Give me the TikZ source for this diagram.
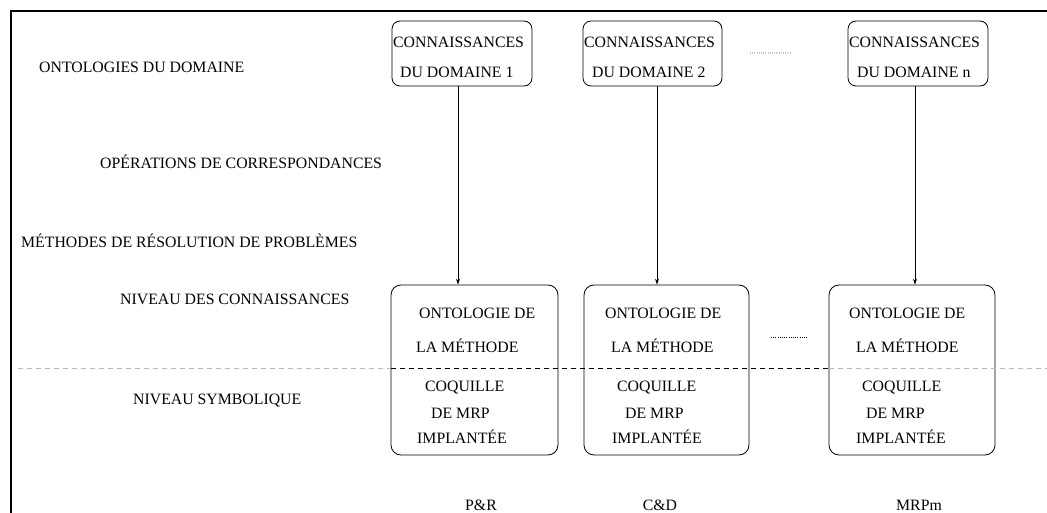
\documentclass[tikz,border=0pt]{standalone}
\usepackage{fontspec}
\setmainfont{Liberation Serif}
\usetikzlibrary{arrows.meta}
\begin{document}
\begin{tikzpicture}[x=1pt,y=-1pt,
  txt/.style={inner sep=0pt, anchor=base west, font=\fontsize{15.8}{18}\selectfont},
  ctxt/.style={inner sep=0pt, anchor=base, font=\fontsize{15.8}{18}\selectfont},
  dombox/.style={draw, rounded corners=8pt, line width=0.8pt, minimum height=65pt, inner sep=0pt},
  methbox/.style={draw, rounded corners=10pt, line width=0.8pt, minimum height=170pt, inner sep=0pt},
  link/.style={line width=0.7pt, -{Stealth[length=6pt,width=4pt]}},
  level/.style={dash pattern=on 5pt off 4pt, line width=1pt},
  gap/.style={line width=1.4pt, dash pattern=on 1pt off 1.2pt}
]
\useasboundingbox (0,0) rectangle (1047,513);

% frame
\draw[line width=1.2pt] (11,513) -- (11,11) -- (1047,11);

% row labels
\node[txt] (l1) at (39,72.2)  {ONTOLOGIES DU DOMAINE};
\node[txt] (l2) at (100,168.2) {OPÉRATIONS DE CORRESPONDANCES};
\node[txt] (l3) at (21,247.2)  {MÉTHODES DE RÉSOLUTION DE PROBLÈMES};
\node[txt] (l4) at (120,304.2) {NIVEAU DES CONNAISSANCES};
\node[txt] (l5) at (133,404.2) {NIVEAU SYMBOLIQUE};

% domain knowledge boxes
\node[dombox, minimum width=140pt] (d1) at (462,53.5) {};
\node[dombox, minimum width=139pt] (d2) at (652.5,53.5) {};
\node[dombox, minimum width=140pt] (d3) at (918,53.5) {};
\node[txt] (d1a) at (393,47.2) {CONNAISSANCES};
\node[txt] (d1b) at (400,77.2) {DU DOMAINE 1};
\node[txt] (d2a) at (584,47.2) {CONNAISSANCES};
\node[txt] (d2b) at (592,77.2) {DU DOMAINE 2};
\node[txt] (d3a) at (849,47.2) {CONNAISSANCES};
\node[txt] (d3b) at (857,77.2) {DU DOMAINE n};
\draw[gap, gray!45] (750,53) -- (790,53);

% method boxes
\node[methbox, minimum width=167pt] (m1) at (474.5,370) {};
\node[methbox, minimum width=165pt] (m2) at (666.5,370) {};
\node[methbox, minimum width=166pt] (m3) at (912,370) {};

\node[txt] (m1a) at (419,318.2) {ONTOLOGIE DE};
\node[txt] (m1b) at (416,352.2) {LA MÉTHODE};
\node[txt] (m1c) at (425,391.2) {COQUILLE};
\node[txt] (m1d) at (431,418.2) {DE MRP};
\node[txt] (m1e) at (417,443.2) {IMPLANTÉE};

\node[txt] (m2a) at (605,318.2) {ONTOLOGIE DE};
\node[txt] (m2b) at (611,352.2) {LA MÉTHODE};
\node[txt] (m2c) at (617,391.2) {COQUILLE};
\node[txt] (m2d) at (625,418.2) {DE MRP};
\node[txt] (m2e) at (612,443.2) {IMPLANTÉE};

\node[txt] (m3a) at (849,318.2) {ONTOLOGIE DE};
\node[txt] (m3b) at (856,352.2) {LA MÉTHODE};
\node[txt] (m3c) at (862,391.2) {COQUILLE};
\node[txt] (m3d) at (866,418.2) {DE MRP};
\node[txt] (m3e) at (856,443.2) {IMPLANTÉE};

\draw[line width=1pt, dash pattern=on 1pt off 1.2pt] (771,337) -- (808,337);

% method names
\node[ctxt] (n1) at (481,510.2) {P\&R};
\node[ctxt] (n2) at (660,510.2) {C\&D};
\node[ctxt] (n3) at (919,510.2) {MRPm};

% mappings from domain knowledge to methods
\coordinate (a1) at (458,0);
\coordinate (a2) at (657,0);
\coordinate (a3) at (915,0);
\draw[link] (d1.south -| a1) -- (m1.north -| a1);
\draw[link] (d2.south -| a2) -- (m2.north -| a2);
\draw[link] (d3.south -| a3) -- (m3.north -| a3);

% knowledge level / symbolic level separator
\coordinate (lvL) at (18,368);
\coordinate (lvR) at (1047,368);
\draw[level, gray!55] (lvL) -- (m1.west |- lvL);
\draw[level] (m1.west |- lvL) -- (m3.west |- lvL);
\draw[level, gray!55] (m3.west |- lvL) -- (lvR);
\end{tikzpicture}
\end{document}
